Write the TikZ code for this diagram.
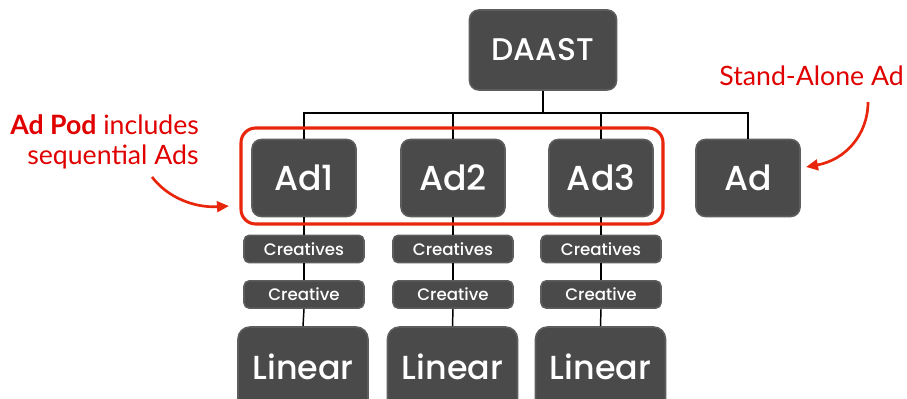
\documentclass[tikz,border=0pt]{standalone}
\usepackage{fontspec}
\setmainfont{Poppins}[UprightFont=* Medium, BoldFont=* SemiBold]
\newfontfamily\notefont{Lato}
\usetikzlibrary{arrows.meta}
\definecolor{boxfill}{HTML}{4B4A4A}
\definecolor{boxedge}{HTML}{5E5D5D}
\definecolor{podred}{HTML}{E8260C}
\definecolor{txtred}{HTML}{E00000}
\tikzset{
  box/.style={draw=boxedge, line width=1.2pt, fill=boxfill, rounded corners=7pt, text=white, inner sep=0pt, align=center},
  bigbox/.style={box, minimum width=78pt, minimum height=57.75pt, font=\fontsize{26}{30}\selectfont},
  smallbox/.style={box, rounded corners=4pt, minimum width=90pt, minimum height=20.5pt, font=\fontsize{12.5}{15}\selectfont},
  linbox/.style={box, rounded corners=9pt, minimum width=97.5pt, minimum height=75pt},
  lintext/.style={text=white, font=\fontsize{25}{30}\selectfont, inner sep=0pt},
  link/.style={line width=1.1pt, black},
  redarrow/.style={draw=podred, line width=2pt, -{Triangle[length=9pt,width=8pt]}},
  note/.style={text=txtred, font=\notefont\fontsize{20}{24}\selectfont, inner sep=0pt}
}
\begin{document}
\begin{tikzpicture}[x=0.75pt,y=-0.75pt]
\clip (0,0) rectangle (907,399);
\fill[white] (0,0) rectangle (907,399);
% boxes
\node[box, minimum width=110.25pt, minimum height=60pt, font=\fontsize{23.5}{28}\selectfont] (daast) at (543,50) {DAAST};
\node[bigbox] (ad1) at (304,178) {Ad1};
\node[bigbox] (ad2) at (453,178) {Ad2};
\node[bigbox] (ad3) at (601,178) {Ad3};
\node[bigbox] (ad)  at (748,178) {Ad};
\node[smallbox] (cs1) at (304,249) {Creatives};
\node[smallbox] (cs2) at (453,249) {Creatives};
\node[smallbox] (cs3) at (601,249) {Creatives};
\node[smallbox] (c1) at (304,294.5) {Creative};
\node[smallbox] (c2) at (453,294.5) {Creative};
\node[smallbox] (c3) at (601,294.5) {Creative};
\node[linbox] (l1) at (303,377) {};
\node[linbox] (l2) at (452.5,377) {};
\node[linbox] (l3) at (600.5,377) {};
\node[lintext] (lt1) at (303,367) {Linear};
\node[lintext] (lt2) at (452.5,367) {Linear};
\node[lintext] (lt3) at (600.5,367) {Linear};
% tree connectors
\coordinate (bus) at (543,113);
\draw[link] (daast.south) -- (bus);
\draw[link] (ad1.north) |- (bus) -| (ad.north);
\draw[link] (ad2.north) -- (ad2.north |- bus);
\draw[link] (ad3.north) -- (ad3.north |- bus);
\foreach \i in {1,2,3}{
  \draw[link] (ad\i.south) -- (cs\i.north);
  \draw[link] (cs\i.south) -- (c\i.north);
  \draw[link] (c\i.south) -- (l\i.north);
}
% ad pod frame
\draw[podred, line width=2.3pt, rounded corners=11pt] (241,128) rectangle (663,224);
% notes
\node[note, anchor=west] (pod) at (10,125) {\textbf{Ad Pod} includes};
\node[note, anchor=west] (seq) at (27,157) {sequential Ads};
\node[note, anchor=east] (sa) at (904,76) {Stand-Alone Ad};
\coordinate (podtip) at (229,206);
\coordinate (satip) at (806,167);
\draw[redarrow] (152,177) .. controls (168,198) and (195,208) .. (podtip);
\draw[redarrow] (868,102) .. controls (868,135) and (845,160) .. (satip);
\end{tikzpicture}
\end{document}
